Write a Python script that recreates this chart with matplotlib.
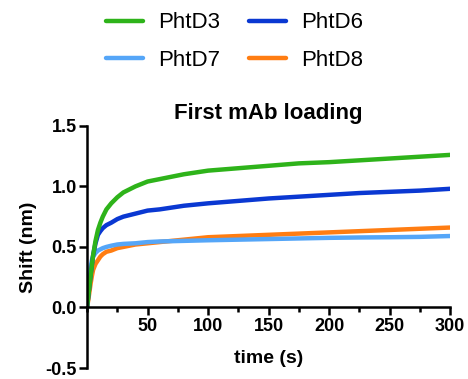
import matplotlib.pyplot as plt
from matplotlib.ticker import MultipleLocator

plt.rcParams['font.family'] = ['Liberation Sans', 'DejaVu Sans']

# time points (s)
t = [0, 1, 2, 3, 4, 5, 7, 9, 11, 13, 16, 20, 25, 30, 40, 50, 60, 80,
     100, 125, 150, 175, 200, 225, 250, 275, 300]

phtd3 = [0.0, 0.09, 0.18, 0.27, 0.35, 0.43, 0.55, 0.64, 0.70, 0.75, 0.81,
         0.86, 0.91, 0.95, 1.00, 1.04, 1.06, 1.10, 1.13, 1.15, 1.17, 1.19,
         1.20, 1.215, 1.23, 1.245, 1.26]
phtd6 = [0.0, 0.09, 0.18, 0.27, 0.35, 0.43, 0.53, 0.60, 0.63, 0.655, 0.68,
         0.70, 0.73, 0.75, 0.775, 0.80, 0.81, 0.84, 0.86, 0.88, 0.90, 0.915,
         0.93, 0.945, 0.955, 0.965, 0.98]
phtd7 = [0.0, 0.13, 0.25, 0.34, 0.39, 0.42, 0.45, 0.47, 0.48, 0.49, 0.50,
         0.51, 0.52, 0.525, 0.53, 0.54, 0.545, 0.55, 0.555, 0.56, 0.565,
         0.57, 0.575, 0.578, 0.58, 0.583, 0.59]
phtd8 = [0.0, 0.06, 0.13, 0.20, 0.26, 0.31, 0.36, 0.39, 0.42, 0.44, 0.46,
         0.47, 0.49, 0.50, 0.52, 0.53, 0.54, 0.56, 0.58, 0.59, 0.60, 0.61,
         0.62, 0.63, 0.64, 0.65, 0.66]

labels = ['PhtD3', 'PhtD6', 'PhtD7', 'PhtD8']
colors = ['#2eb31a', '#0a38d2', '#55a6f8', '#ff7d12']

fig = plt.figure(figsize=(4.68, 3.79), dpi=100)
ax = fig.add_axes([0.186, 0.029, 0.776, 0.639])

series = [phtd3, phtd6, phtd7, phtd8]
handles = {}
# draw order: light blue and orange under the others
for i in [3, 2, 1, 0]:
    ln, = ax.plot(t, series[i], color=colors[i], lw=3.2, solid_capstyle='round',
                  label=labels[i])
    handles[labels[i]] = ln

ax.set_xlim(0, 300)
ax.set_ylim(-0.5, 1.5)
ax.spines['bottom'].set_position(('data', 0))
ax.spines['top'].set_visible(False)
ax.spines['right'].set_visible(False)
for s in ['left', 'bottom']:
    ax.spines[s].set_linewidth(1.8)

ax.xaxis.set_major_locator(MultipleLocator(50))
ax.xaxis.set_minor_locator(MultipleLocator(25))
ax.yaxis.set_major_locator(MultipleLocator(0.5))
ax.set_xticks([50, 100, 150, 200, 250, 300])
ax.tick_params(axis='both', which='major', width=1.8, length=5.5, labelsize=13, pad=2)
ax.tick_params(axis='x', which='minor', width=1.8, length=3.5)
ax.tick_params(axis='y', which='minor', length=0)
for lab in ax.get_xticklabels() + ax.get_yticklabels():
    lab.set_fontweight('bold')
ax.yaxis.set_major_formatter(plt.FuncFormatter(lambda v, p: f'{v:.1f}'))

ax.set_title('First mAb loading', fontsize=16, fontweight='bold', pad=5)
ax.set_ylabel('Shift (nm)', fontsize=14, fontweight='bold', labelpad=6)
ax.text(0.5, 0.04, 'time (s)', transform=ax.transAxes, ha='center', va='center',
        fontsize=14, fontweight='bold')

fig.legend([handles[l] for l in ['PhtD3', 'PhtD7', 'PhtD6', 'PhtD8']],
           ['PhtD3', 'PhtD7', 'PhtD6', 'PhtD8'],
           ncol=2, loc='upper left', bbox_to_anchor=(0.184, 1.02), frameon=False,
           fontsize=16, handlelength=1.65, handletextpad=0.7, columnspacing=1.3,
           labelspacing=0.75)

fig.savefig('out.png', dpi=100)
